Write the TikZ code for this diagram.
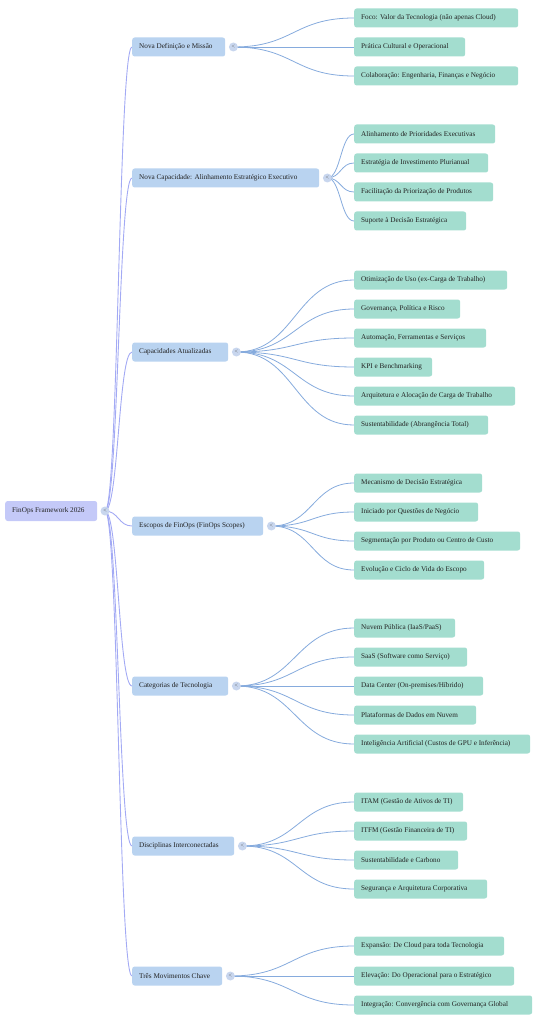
\documentclass[tikz,border=0pt]{standalone}
\usepackage{fontspec}
\setmainfont{Liberation Serif}
\usetikzlibrary{calc,backgrounds}
\definecolor{rootc}{HTML}{C4C9F8}
\definecolor{midc}{HTML}{B9D3F0}
\definecolor{leafc}{HTML}{A3DDCF}
\definecolor{rootedge}{HTML}{A3AAF4}
\definecolor{leafedge}{HTML}{86ABDD}
\definecolor{btnc}{HTML}{C8D6EE}
\definecolor{txt}{HTML}{222222}
\newcommand\hlink[3]{\draw[#1] let \p1=(#2), \p2=(#3) in (\p1) .. controls ({0.5*\x1+0.5*\x2},\y1) and ({0.5*\x1+0.5*\x2},\y2) .. (\p2);}
\newcommand\leafnode[4]{\node[leaf] (#1) at (354,#2) {\makebox[#3pt][l]{#4}};}
\newcommand\midnode[5]{\node[mid] (#1) at (132,#2) {\makebox[#3pt][l]{#4}};
  \node[btn] (#5) at ($(#1.east)+(8,0)$) {<};}
\begin{document}
\begin{tikzpicture}[x=1pt,y=-1pt,
 box/.style={anchor=west, rounded corners=2.5pt, minimum height=19pt, inner xsep=7pt, inner ysep=0pt, font=\fontsize{7.2}{8}\selectfont, text=txt},
 leaf/.style={box, fill=leafc},
 mid/.style={box, fill=midc},
 rootn/.style={box, fill=rootc, minimum height=20pt},
 btn/.style={circle, fill=btnc, inner sep=0pt, minimum size=9pt, font=\fontsize{6}{6}\selectfont, text=black!65},
 redge/.style={draw=rootedge, line width=0.9pt},
 ledge/.style={draw=leafedge, line width=0.8pt}]
\useasboundingbox (0,0) rectangle (549,1024);

\node[rootn] (root) at (5,511) {\makebox[78pt][l]{FinOps Framework 2026}};
\node[btn] (c0) at (105,511) {<};

\midnode{m1}{47}{79}{Nova Definição e Missão}{c1}
\midnode{m2}{178}{173}{Nova Capacidade: Alinhamento Estratégico Executivo}{c2}
\midnode{m3}{352}{82}{Capacidades Atualizadas}{c3}
\midnode{m4}{526}{117}{Escopos de FinOps (FinOps Scopes)}{c4}
\midnode{m5}{686}{82}{Categorias de Tecnologia}{c5}
\midnode{m6}{846}{88}{Disciplinas Interconectadas}{c6}
\midnode{m7}{976}{76}{Três Movimentos Chave}{c7}

\leafnode{l11}{18}{150}{Foco: Valor da Tecnologia (não apenas Cloud)}
\leafnode{l12}{47}{97}{Prática Cultural e Operacional}
\leafnode{l13}{76}{150}{Colaboração: Engenharia, Finanças e Negócio}

\leafnode{l21}{134}{127}{Alinhamento de Prioridades Executivas}
\leafnode{l22}{163}{120}{Estratégia de Investimento Plurianual}
\leafnode{l23}{192}{125}{Facilitação da Priorização de Produtos}
\leafnode{l24}{221}{98}{Suporte à Decisão Estratégica}

\leafnode{l31}{280}{139}{Otimização de Uso (ex-Carga de Trabalho)}
\leafnode{l32}{309}{92}{Governança, Política e Risco}
\leafnode{l33}{338}{118}{Automação, Ferramentas e Serviços}
\leafnode{l34}{367}{64}{KPI e Benchmarking}
\leafnode{l35}{396}{147}{Arquitetura e Alocação de Carga de Trabalho}
\leafnode{l36}{425}{120}{Sustentabilidade (Abrangência Total)}

\leafnode{l41}{483}{114}{Mecanismo de Decisão Estratégica}
\leafnode{l42}{512}{110}{Iniciado por Questões de Negócio}
\leafnode{l43}{541}{152}{Segmentação por Produto ou Centro de Custo}
\leafnode{l44}{570}{116}{Evolução e Ciclo de Vida do Escopo}

\leafnode{l51}{628}{87}{Nuvem Pública (IaaS/PaaS)}
\leafnode{l52}{657}{99}{SaaS (Software como Serviço)}
\leafnode{l53}{686}{115}{Data Center (On-premises/Híbrido)}
\leafnode{l54}{715}{108}{Plataformas de Dados em Nuvem}
\leafnode{l55}{744}{162}{Inteligência Artificial (Custos de GPU e Inferência)}

\leafnode{l61}{802}{95}{ITAM (Gestão de Ativos de TI)}
\leafnode{l62}{831}{99}{ITFM (Gestão Financeira de TI)}
\leafnode{l63}{860}{90}{Sustentabilidade e Carbono}
\leafnode{l64}{889}{119}{Segurança e Arquitetura Corporativa}

\leafnode{l71}{946}{136}{Expansão: De Cloud para toda Tecnologia}
\leafnode{l72}{976}{146}{Elevação: Do Operacional para o Estratégico}
\leafnode{l73}{1005}{164}{Integração: Convergência com Governança Global}

\begin{pgfonlayer}{background}
\foreach \m in {m1,m2,m3,m4,m5,m6,m7}{\hlink{redge}{c0.center}{\m.west}}
\foreach \l in {l11,l12,l13}{\hlink{ledge}{c1.center}{\l.west}}
\foreach \l in {l21,l22,l23,l24}{\hlink{ledge}{c2.center}{\l.west}}
\foreach \l in {l31,l32,l33,l34,l35,l36}{\hlink{ledge}{c3.center}{\l.west}}
\foreach \l in {l41,l42,l43,l44}{\hlink{ledge}{c4.center}{\l.west}}
\foreach \l in {l51,l52,l53,l54,l55}{\hlink{ledge}{c5.center}{\l.west}}
\foreach \l in {l61,l62,l63,l64}{\hlink{ledge}{c6.center}{\l.west}}
\foreach \l in {l71,l72,l73}{\hlink{ledge}{c7.center}{\l.west}}
\end{pgfonlayer}
\end{tikzpicture}
\end{document}
